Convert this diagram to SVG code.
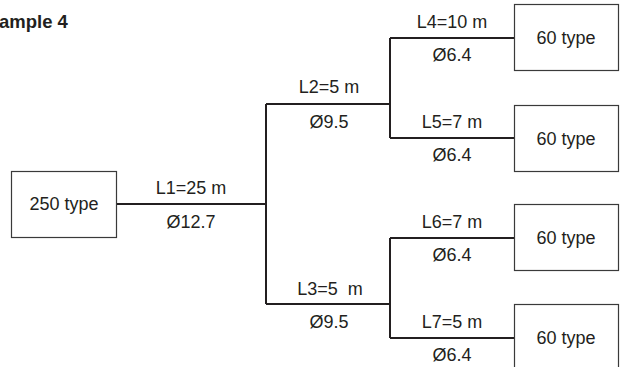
<svg xmlns="http://www.w3.org/2000/svg" width="622" height="367" viewBox="0 0 622 367">
<style>
text{font-family:"Liberation Sans",Arial,sans-serif;font-size:18px;fill:#231f20;text-anchor:middle}
.t{font-weight:bold;text-anchor:start;font-size:18.5px}
.box{fill:#fff;stroke:#3a3a3a;stroke-width:1.2}
.pipe{fill:none;stroke:#231f20;stroke-width:2}
</style>
<rect width="622" height="367" fill="#fff"/>
<text class="t" x="-1" y="28">ample 4</text>
<g id="connectors">
<path class="pipe" d="M116 204H266M266 104V304M266 104H390M266 304H390M390 38V138M390 38H514M390 138H514M390 238V338M390 238H514M390 338H514"/>
</g>
<g id="labels">
<text x="191" y="194">L1=25 m</text>
<text x="191" y="228">Ø12.7</text>
<text x="329" y="93">L2=5 m</text>
<text x="329" y="128">Ø9.5</text>
<text x="330" y="295" xml:space="preserve" style="white-space:pre">L3=5  m</text>
<text x="329" y="328">Ø9.5</text>
<text x="452" y="28">L4=10 m</text>
<text x="452" y="61">Ø6.4</text>
<text x="452" y="128">L5=7 m</text>
<text x="452" y="161">Ø6.4</text>
<text x="452" y="228">L6=7 m</text>
<text x="452" y="261">Ø6.4</text>
<text x="452" y="328">L7=5 m</text>
<text x="452" y="361">Ø6.4</text>
</g>
<g id="n250"><rect class="box" x="11.5" y="171.5" width="105" height="66"/><text x="64" y="210">250 type</text></g>
<g id="n60a"><rect class="box" x="514.5" y="4.5" width="104" height="66"/><text x="566" y="44">60 type</text></g>
<g id="n60b"><rect class="box" x="514.5" y="105.5" width="104" height="66"/><text x="566" y="145">60 type</text></g>
<g id="n60c"><rect class="box" x="514.5" y="204.5" width="104" height="66"/><text x="566" y="244">60 type</text></g>
<g id="n60d"><rect class="box" x="514.5" y="304.5" width="104" height="66"/><text x="566" y="344">60 type</text></g>
</svg>
